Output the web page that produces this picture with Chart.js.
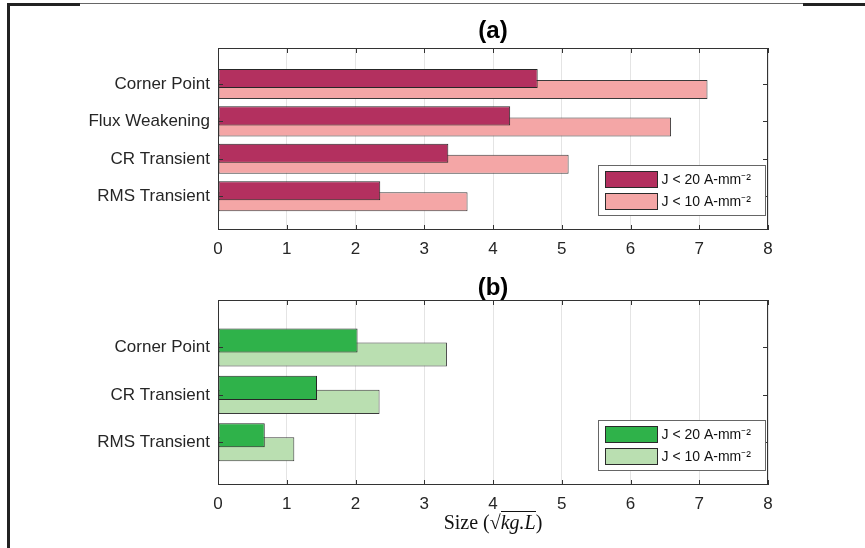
<!DOCTYPE html>
<html>
<head>
<meta charset="utf-8">
<script src="https://cdn.jsdelivr.net/npm/chart.js@4.4.1/dist/chart.umd.min.js"></script>
<style>
  body { margin: 0; background: #fff; }
  #wrap { position: relative; width: 865px; height: 548px; overflow: hidden; }
  canvas { position: absolute; left: 0; }
  .frame { position: absolute; background: #222; }
  #xlabel {
    position: absolute; left: 218px; width: 550px; top: 509px;
    text-align: center; font: 20px "Liberation Serif", "DejaVu Serif", serif;
    line-height: 26px; color: #111;
  }
  #xlabel .ov { font-style: italic; border-top: 1px solid #111; padding-top: 0px; display: inline-block; line-height: 20px; }
</style>
</head>
<body>
<div id="wrap">
  <div class="frame" style="left:7px;top:3px;width:3px;height:545px;"></div>
  <div class="frame" style="left:7px;top:3px;width:73px;height:3px;"></div>
  <div class="frame" style="left:80px;top:3px;width:723px;height:1px;background:#666;"></div>
  <div class="frame" style="left:803px;top:3px;width:62px;height:3px;"></div>
  <canvas id="chartA" width="865" height="265" style="top:0px"></canvas>
  <canvas id="chartB" width="865" height="278" style="top:270px"></canvas>
  <div id="xlabel">Size (√<span class="ov">kg.L</span>)</div>
</div>
<script>
// panel (a)
const labelsA = ["Corner Point", "Flux Weakening", "CR Transient", "RMS Transient"];
const a20 = [4.65, 4.25, 3.35, 2.36];
const a10 = [7.12, 6.59, 5.10, 3.63];

// panel (b)
const labelsB = ["Corner Point", "CR Transient", "RMS Transient"];
const b20 = [2.03, 1.44, 0.68];
const b10 = [3.33, 2.35, 1.11];

const xTicks = [0, 1, 2, 3, 4, 5, 6, 7, 8];
const legend20 = "J < 20 A-mm⁻²";
const legend10 = "J < 10 A-mm⁻²";

Chart.defaults.font.family = '"Liberation Sans", Arial, sans-serif';
Chart.defaults.color = "#262626";

// axes box with inward MATLAB-style tick marks
const axisBox = {
  id: "axisBox",
  afterDatasetsDraw(chart) {
    const { ctx, chartArea: a, scales: { x, y } } = chart;
    ctx.save();
    ctx.strokeStyle = "#333";
    ctx.lineWidth = 1;
    const line = (x1, y1, x2, y2) => {
      ctx.beginPath();
      ctx.moveTo(x1, y1);
      ctx.lineTo(x2, y2);
      ctx.stroke();
    };
    x.ticks.forEach((t) => {
      const px = Math.round(x.getPixelForValue(t.value)) + 0.5;
      line(px, a.bottom, px, a.bottom - 5);
      line(px, a.top, px, a.top + 5);
    });
    y.ticks.forEach((t) => {
      const py = Math.round(y.getPixelForValue(t.value)) + 0.5;
      line(a.left, py, a.left + 5, py);
      line(a.right, py, a.right - 5, py);
    });
    ctx.strokeRect(Math.round(a.left) + 0.5, Math.round(a.top) + 0.5,
      Math.round(a.width) - 1, Math.round(a.height) - 1);
    ctx.restore();
  },
};

// legend box inside the lower right corner of the axes
const boxLegend = {
  id: "boxLegend",
  afterDraw(chart) {
    const { ctx, chartArea: a } = chart;
    const w = 167, h = 50;
    const left = Math.round(a.right - 3 - w) + 0.5;
    const top = Math.round(a.bottom - 15 - h) + 0.5;
    ctx.save();
    ctx.fillStyle = "#fff";
    ctx.fillRect(left, top, w, h);
    ctx.strokeStyle = "#666";
    ctx.lineWidth = 1;
    ctx.strokeRect(left, top, w, h);
    chart.data.datasets.forEach((ds, i) => {
      const cy = top + 14 + i * 22;
      ctx.fillStyle = ds.backgroundColor;
      ctx.fillRect(left + 7, cy - 8, 52, 16);
      ctx.strokeStyle = "#2a2a2a";
      ctx.strokeRect(left + 7, cy - 8, 52, 16);
      ctx.fillStyle = "#111";
      ctx.font = '14px "Liberation Sans", Arial, sans-serif';
      ctx.textBaseline = "middle";
      ctx.fillText(ds.label, left + 63, cy + 1);
    });
    ctx.restore();
  },
};

function makeChart(id, title, titlePad, labels, v20, v10, colors, yMin, yMax, xHeight) {
  return new Chart(document.getElementById(id), {
    type: "bar",
    data: {
      datasets: [
        {
          label: legend20,
          data: v20.map((v, i) => ({ x: v, y: i + 1 })),
          backgroundColor: colors[0],
          borderColor: "#262626",
        },
        {
          label: legend10,
          data: v10.map((v, i) => ({ x: v, y: i + 1 })),
          backgroundColor: colors[1],
          borderColor: "#3a3a3a",
        },
      ],
    },
    options: {
      indexAxis: "y",
      responsive: false,
      animation: false,
      devicePixelRatio: 1,
      layout: { padding: { left: 0, right: 97, top: 0, bottom: 0 } },
      datasets: {
        bar: {
          categoryPercentage: 0.59,
          barPercentage: 1.72,
          borderWidth: 1,
          borderSkipped: false,
        },
      },
      plugins: {
        legend: { display: false },
        tooltip: { enabled: false },
        title: {
          display: true,
          text: title,
          fullSize: false,
          color: "#000",
          font: { size: 24, weight: "bold", lineHeight: 1 },
          padding: titlePad,
        },
      },
      scales: {
        x: {
          type: "linear",
          min: 0,
          max: 8,
          afterBuildTicks: (s) => { s.ticks = xTicks.map((v) => ({ value: v })); },
          afterFit: (s) => { s.height = xHeight; },
          ticks: { font: { size: 17 }, padding: 9, maxRotation: 0 },
          grid: { color: "#e4e4e4", drawTicks: false },
          border: { display: false },
        },
        y: {
          type: "linear",
          reverse: true,
          offset: false,
          min: yMin,
          max: yMax,
          afterBuildTicks: (s) => { s.ticks = labels.map((_, i) => ({ value: i + 1 })); },
          afterFit: (s) => { s.width = 218; },
          ticks: {
            font: { size: 17 },
            padding: 8,
            callback: (v) => labels[v - 1] ?? "",
          },
          grid: { display: false, drawTicks: false },
          border: { display: false },
        },
      },
    },
    plugins: [axisBox, boxLegend],
  });
}

makeChart("chartA", "(a)", { top: 19, bottom: 5 }, labelsA, a20, a10,
  ["#b3305f", "#f4a6a6"], 0.04, 4.9, 35);
makeChart("chartB", "(b)", { top: 6, bottom: 0 }, labelsB, b20, b10,
  ["#2fb24a", "#badfb1"], 0, 3.9, 63);
</script>
</body>
</html>
